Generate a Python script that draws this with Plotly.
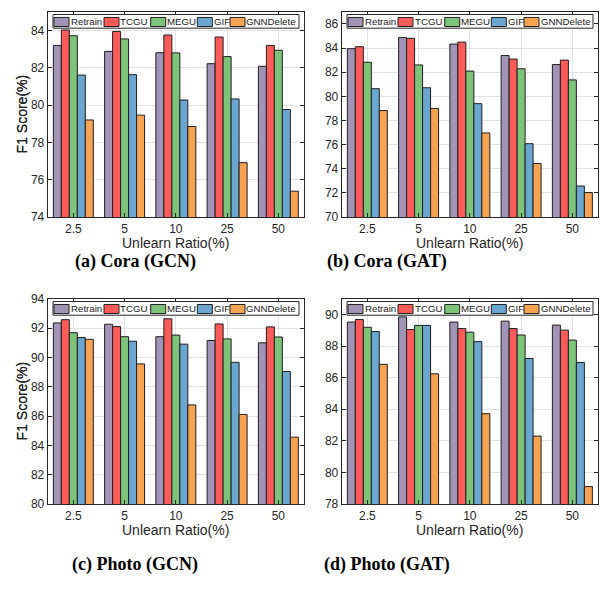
import plotly.graph_objects as go

FIG_W, FIG_H = 609, 590

categories = ["2.5", "5", "10", "25", "50"]
methods = ["Retrain", "TCGU", "MEGU", "GIF", "GNNDelete"]
colors = ["#A294B7", "#FD5A5A", "#7DC37A", "#6BA6D0", "#F6A452"]

# (a) Cora (GCN)
cora_gcn_retrain = [83.20, 82.88, 82.81, 82.22, 82.08]
cora_gcn_tcgu = [84.03, 83.95, 83.76, 83.65, 83.20]
cora_gcn_megu = [83.72, 83.55, 82.80, 82.60, 82.94]
cora_gcn_gif = [81.61, 81.63, 80.27, 80.33, 79.76]
cora_gcn_gnndelete = [79.20, 79.46, 78.85, 76.91, 75.38]

# (b) Cora (GAT)
cora_gat_retrain = [83.95, 84.87, 84.33, 83.38, 82.63]
cora_gat_tcgu = [84.11, 84.81, 84.49, 83.09, 83.00]
cora_gat_megu = [82.82, 82.60, 82.09, 82.28, 81.36]
cora_gat_gif = [80.63, 80.71, 79.39, 76.07, 72.56]
cora_gat_gnndelete = [78.82, 78.99, 76.96, 74.43, 72.02]

# (c) Photo (GCN)
photo_gcn_retrain = [92.36, 92.27, 91.42, 91.16, 91.00]
photo_gcn_tcgu = [92.58, 92.11, 92.64, 92.29, 92.09]
photo_gcn_megu = [91.69, 91.42, 91.53, 91.27, 91.40]
photo_gcn_gif = [91.36, 91.11, 90.91, 89.67, 89.04]
photo_gcn_gnndelete = [91.24, 89.56, 86.76, 86.11, 84.56]

# (d) Photo (GAT)
photo_gat_retrain = [89.53, 89.86, 89.53, 89.59, 89.34]
photo_gat_tcgu = [89.69, 89.06, 89.12, 89.12, 89.02]
photo_gat_megu = [89.20, 89.32, 88.89, 88.71, 88.39]
photo_gat_gif = [88.93, 89.32, 88.29, 87.22, 86.97]
photo_gat_gnndelete = [86.85, 86.25, 83.72, 82.30, 79.10]

captions = ["(a) Cora (GCN)", "(b) Cora (GAT)", "(c) Photo (GCN)", "(d) Photo (GAT)"]
y_ranges = [[74, 85], [70, 87], [80, 94], [78, 91]]
y_ticks = [list(range(74, 85, 2)), list(range(70, 87, 2)),
           list(range(80, 95, 2)), list(range(78, 91, 2))]

panel_series = [
    [cora_gcn_retrain, cora_gcn_tcgu, cora_gcn_megu, cora_gcn_gif, cora_gcn_gnndelete],
    [cora_gat_retrain, cora_gat_tcgu, cora_gat_megu, cora_gat_gif, cora_gat_gnndelete],
    [photo_gcn_retrain, photo_gcn_tcgu, photo_gcn_megu, photo_gcn_gif, photo_gcn_gnndelete],
    [photo_gat_retrain, photo_gat_tcgu, photo_gat_megu, photo_gat_gif, photo_gat_gnndelete],
]

# layout (pixels)
col_x = [(47.7, 304.0), (341.7, 598.0)]
row_y = [(5.0, 215.0), (299.0, 509.0)]
caption_pos = [(135, 260.5), (387, 260.5), (135, 571), (387.5, 571)]

TEXT = "#262626"
FONT = "Liberation Sans, Arial, sans-serif"

fig = go.Figure()
layout = dict(
    width=FIG_W, height=FIG_H,
    margin=dict(l=0, r=0, t=0, b=0),
    paper_bgcolor="white", plot_bgcolor="white",
    barmode="group", bargap=0.22, bargroupgap=0,
    showlegend=False,
)
shapes = []
annotations = []

for i in range(4):
    r, c = divmod(i, 2)
    n = "" if i == 0 else str(i + 1)
    xa, ya = "x" + n, "y" + n
    x0, x1 = col_x[c]
    yt, yb = row_y[r]
    W, H = x1 - x0, yb - yt
    for m, vals, col in zip(methods, panel_series[i], colors):
        fig.add_trace(go.Bar(
            x=categories, y=vals, name=m, xaxis=xa, yaxis=ya,
            marker=dict(color=col, line=dict(color="#1f1f1f", width=1)),
        ))
    common = dict(
        showline=True, linecolor=TEXT, linewidth=1, mirror="ticks",
        ticks="inside", ticklen=4, tickcolor=TEXT, tickwidth=1,
        showgrid=True, gridcolor="#E3E3E3", gridwidth=1, zeroline=False,
        tickfont=dict(family=FONT, size=12, color=TEXT), fixedrange=True,
    )
    layout["xaxis" + n] = dict(
        common, domain=[x0 / FIG_W, x1 / FIG_W], anchor=ya,
        type="category", range=[-0.5, 4.5], ticklabelstandoff=1,
    )
    layout["yaxis" + n] = dict(
        common, domain=[1 - yb / FIG_H, 1 - yt / FIG_H], anchor=xa,
        range=y_ranges[i], tickvals=y_ticks[i],
    )
    # axis titles
    annotations.append(dict(
        text="Unlearn Ratio(%)", xref=xa + " domain", yref=ya + " domain",
        x=0.5, y=0, yshift=-26, xanchor="center", yanchor="middle",
        showarrow=False, font=dict(family=FONT, size=14, color=TEXT),
    ))
    annotations.append(dict(
        text="F1 Score(%)", xref=xa + " domain", yref=ya + " domain",
        x=0, y=0.5, xshift=-(x0 - 22), xanchor="center", yanchor="middle",
        textangle=-90, showarrow=False, font=dict(family=FONT, size=14, color=TEXT),
    ))
    # legend box
    shapes.append(dict(
        type="rect", xref=xa + " domain", yref=ya + " domain", layer="above",
        x0=5.3 / W, x1=251.3 / W, y0=1 - 16.7 / H, y1=1 - 2.7 / H,
        fillcolor="white", line=dict(color=TEXT, width=1),
    ))
    icon_left = [6.3, 56.3, 103.0, 149.6, 182.3]
    for k, (m, col) in enumerate(zip(methods, colors)):
        lx = icon_left[k]
        shapes.append(dict(
            type="rect", xref=xa + " domain", yref=ya + " domain", layer="above",
            x0=lx / W, x1=(lx + 15) / W, y0=1 - 15.0 / H, y1=1 - 5.7 / H,
            fillcolor=col, line=dict(color="#1f1f1f", width=1),
        ))
        annotations.append(dict(
            text=m, xref=xa + " domain", yref=ya + " domain",
            x=(lx + 15.5) / W, y=1 - 10.2 / H, xanchor="left", yanchor="middle",
            showarrow=False, borderpad=0,
            font=dict(family=FONT, size=9.7, color="#1a1a1a"),
        ))
    # caption
    cx, cy = caption_pos[i]
    annotations.append(dict(
        text="<b>" + captions[i] + "</b>", xref="paper", yref="paper",
        x=cx / FIG_W, y=1 - cy / FIG_H, xanchor="center", yanchor="middle",
        showarrow=False,
        font=dict(family="Liberation Serif, Times New Roman, serif", size=18, color="black"),
    ))

layout["shapes"] = shapes
layout["annotations"] = annotations
fig.update_layout(**layout)
fig.write_html(
    "out.html",
    config={"displayModeBar": False, "staticPlot": True},
    post_script="document.body.style.margin='0';document.body.style.padding='0';",
)
